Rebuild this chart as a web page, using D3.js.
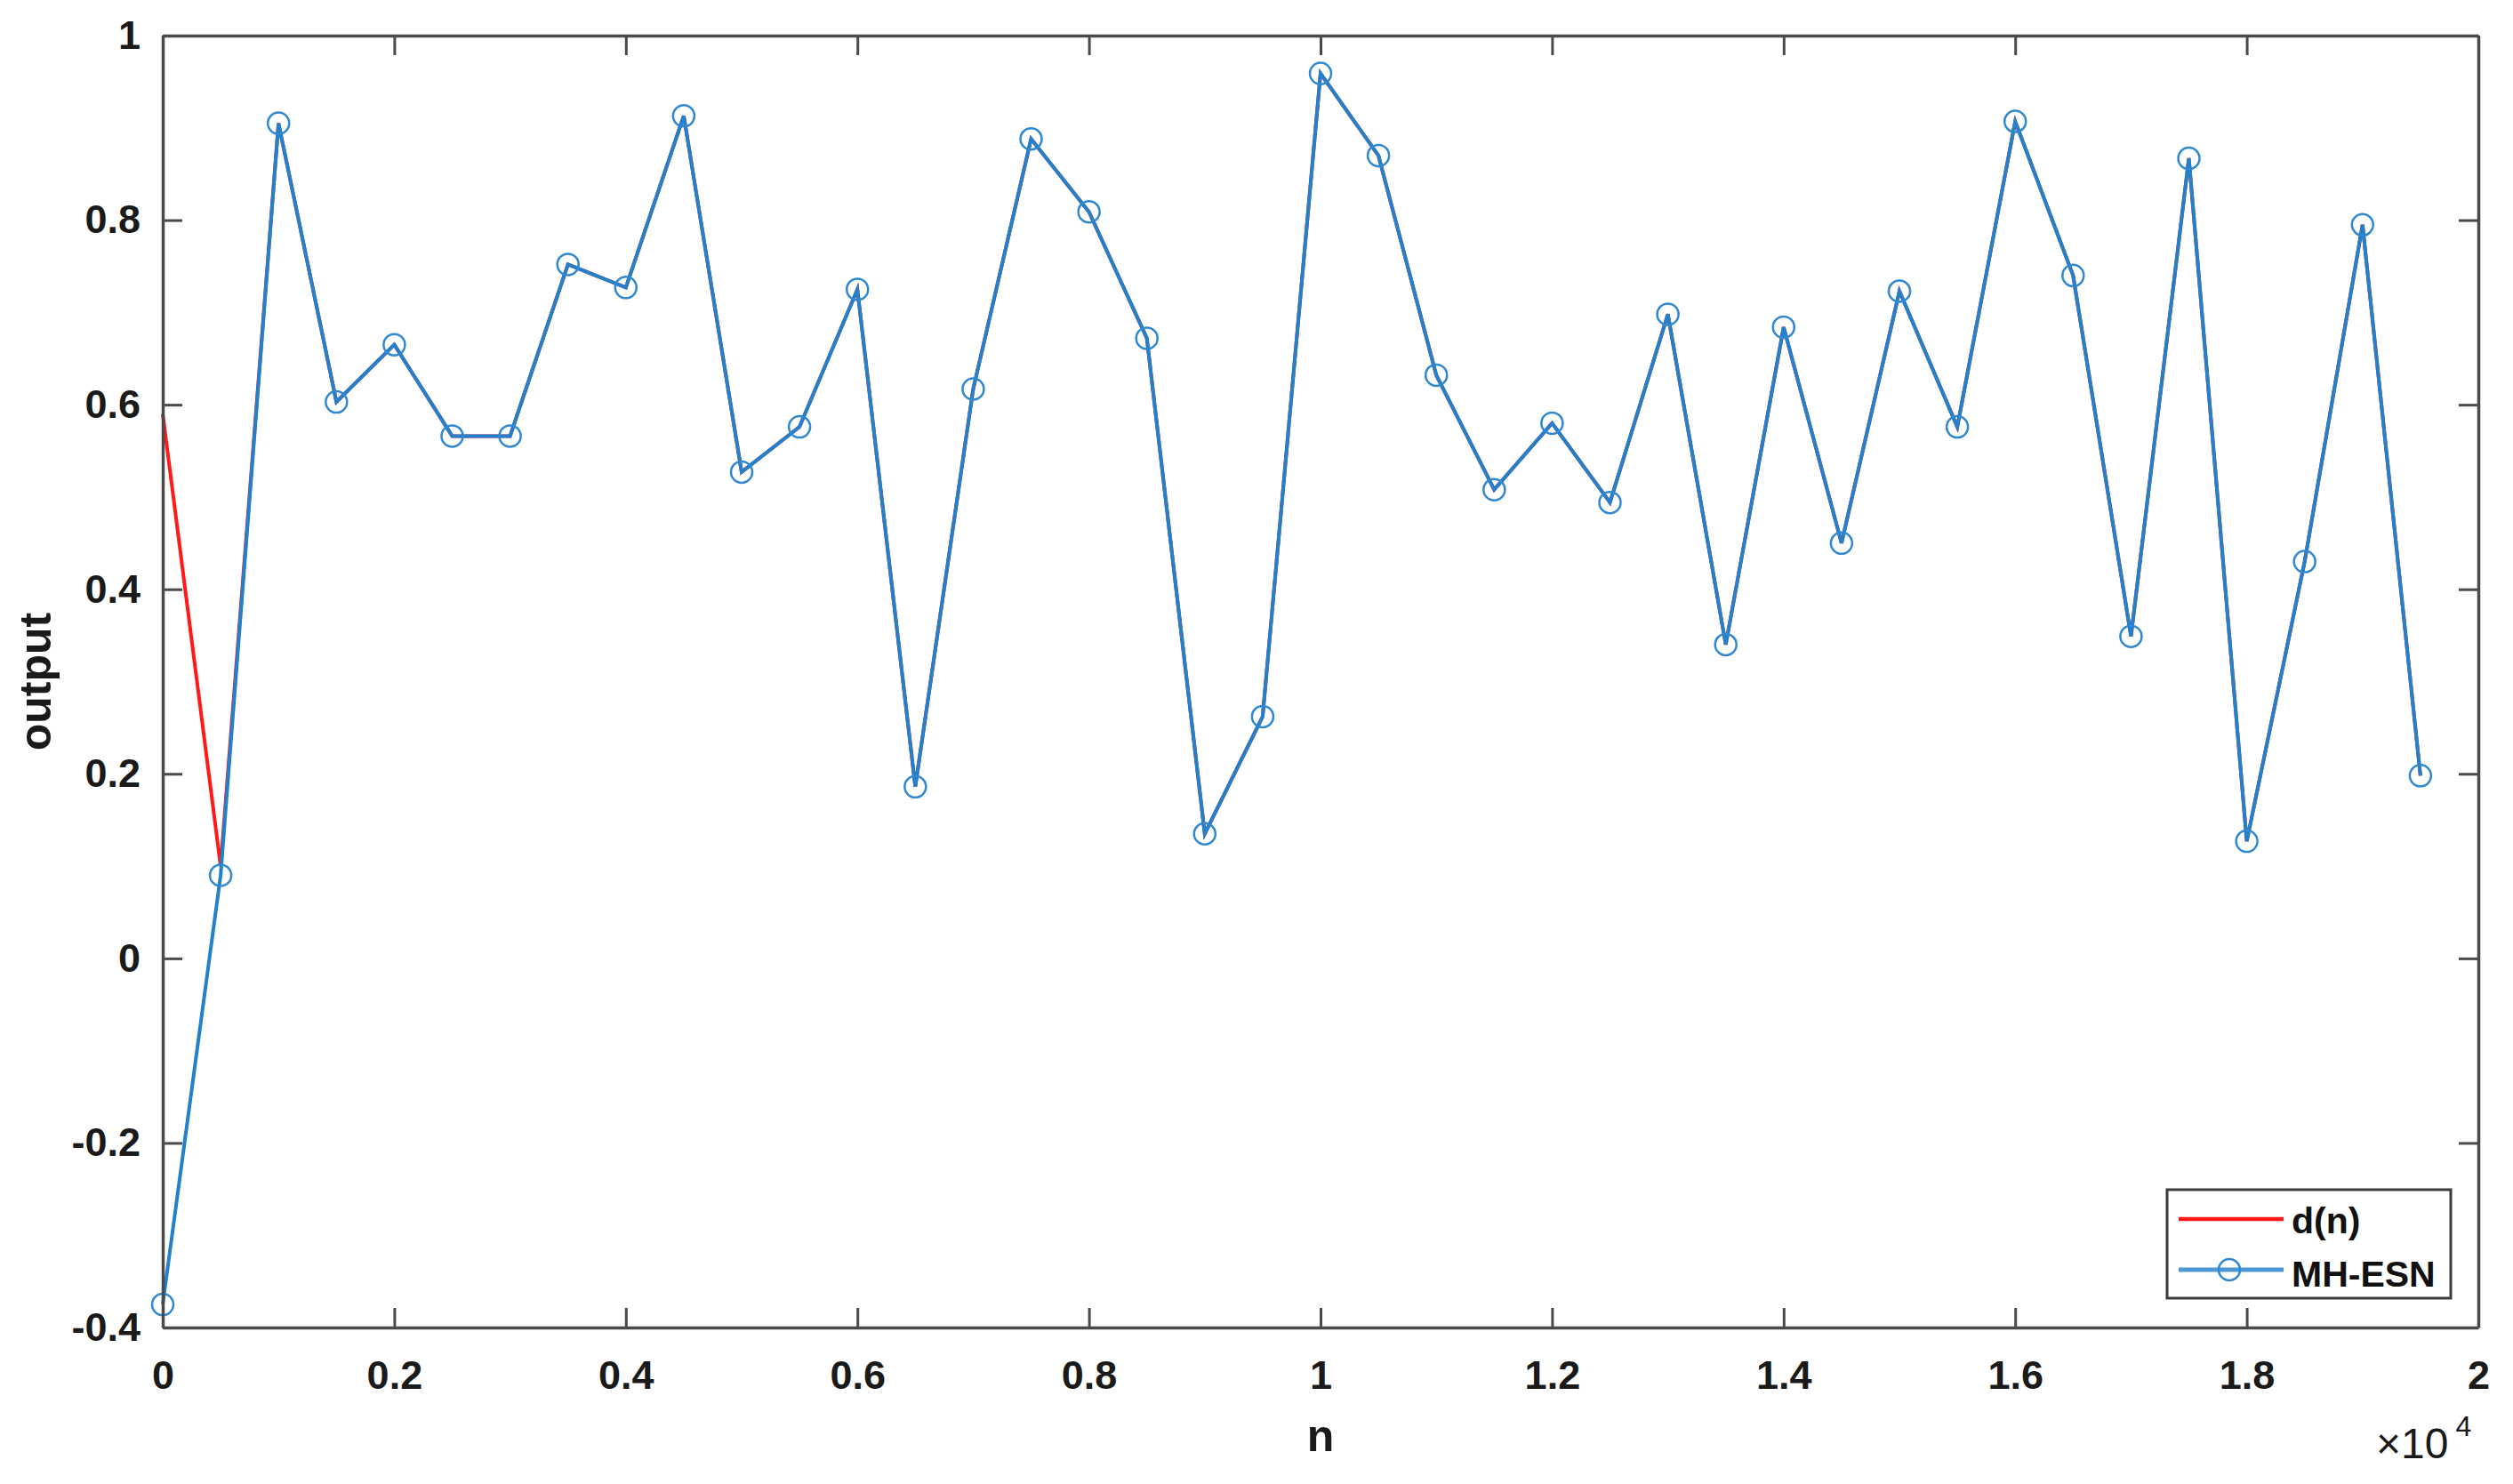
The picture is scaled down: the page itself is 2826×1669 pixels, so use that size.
<!DOCTYPE html>
<html>
<head>
<meta charset="utf-8">
<script src="https://cdn.jsdelivr.net/npm/d3@7"></script>
<style>
  html, body { margin: 0; padding: 0; background: #ffffff; }
  svg { display: block; }
  text { font-family: "Liberation Sans", Arial, Helvetica, sans-serif; }
</style>
</head>
<body>
<svg id="chart" width="2826" height="1669"></svg>
<script>
// ---- data ----
const nValues = [0, 500, 1000, 1500, 2000, 2500, 3000, 3500, 4000, 4500,
  5000, 5500, 6000, 6500, 7000, 7500, 8000, 8500, 9000, 9500,
  10000, 10500, 11000, 11500, 12000, 12500, 13000, 13500, 14000, 14500,
  15000, 15500, 16000, 16500, 17000, 17500, 18000, 18500, 19000, 19500];
const mhEsn = [-0.375, 0.09, 0.905, 0.603, 0.665, 0.566, 0.566, 0.752, 0.727, 0.913,
  0.527, 0.576, 0.725, 0.186, 0.617, 0.888, 0.809, 0.672, 0.135, 0.262,
  0.959, 0.870, 0.632, 0.508, 0.580, 0.494, 0.698, 0.340, 0.684, 0.450,
  0.723, 0.576, 0.907, 0.740, 0.349, 0.867, 0.127, 0.430, 0.795, 0.198];
const dN = [0.59, 0.10, 0.905, 0.603, 0.665, 0.566, 0.566, 0.752, 0.727, 0.913,
  0.527, 0.576, 0.725, 0.186, 0.617, 0.888, 0.809, 0.672, 0.135, 0.262,
  0.959, 0.870, 0.632, 0.508, 0.580, 0.494, 0.698, 0.340, 0.684, 0.450,
  0.723, 0.576, 0.907, 0.740, 0.349, 0.867, 0.127, 0.430, 0.795, 0.198];
const xTicks = [0, 2000, 4000, 6000, 8000, 10000, 12000, 14000, 16000, 18000, 20000];
const xTickLabels = ["0", "0.2", "0.4", "0.6", "0.8", "1", "1.2", "1.4", "1.6", "1.8", "2"];
const yTicks = [-0.4, -0.2, 0, 0.2, 0.4, 0.6, 0.8, 1];
const yTickLabels = ["-0.4", "-0.2", "0", "0.2", "0.4", "0.6", "0.8", "1"];
const seriesNames = ["d(n)", "MH-ESN"];

// ---- layout ----
const L = 183, R = 2787, T = 40, B = 1493;
const svg = d3.select("#chart");
const x = d3.scaleLinear().domain([0, 20000]).range([L, R]);
const y = d3.scaleLinear().domain([-0.4, 1]).range([B, T]);
const axisColor = "#4a4a4a";
const blue = "#2281cc";
const red = "#FF1A1A";

// lines
const line = d3.line().x((d, i) => x(nValues[i])).y(d => y(d));
svg.append("path").datum(dN)
  .attr("d", line).attr("fill", "none").attr("stroke", red).attr("stroke-width", 4);
svg.append("path").datum(mhEsn)
  .attr("d", line).attr("fill", "none").attr("stroke", blue).attr("stroke-width", 4);
svg.append("g").selectAll("circle").data(mhEsn).join("circle")
  .attr("cx", (d, i) => x(nValues[i])).attr("cy", d => y(d))
  .attr("r", 12).attr("fill", "none").attr("stroke", "#2f88d0").attr("stroke-width", 2.5);

// axes
function styleAxis(g) {
  g.select(".domain").attr("stroke", axisColor).attr("stroke-width", 3.5);
  g.selectAll(".tick line").attr("stroke", axisColor).attr("stroke-width", 3);
  g.selectAll(".tick text").attr("fill", "#1a1a1a")
    .style("font-family", "'Liberation Sans', Arial, sans-serif")
    .style("font-weight", "bold").style("font-size", "45px");
}
const fmtX = v => xTickLabels[xTicks.indexOf(v)];
const fmtY = v => yTickLabels[yTicks.findIndex(t => Math.abs(t - v) < 1e-9)];

svg.append("g").attr("transform", `translate(0,${B})`)
  .call(d3.axisBottom(x).tickValues(xTicks).tickFormat(fmtX).tickSizeInner(-22).tickSizeOuter(0).tickPadding(37))
  .call(styleAxis);
svg.append("g").attr("transform", `translate(0,${T})`)
  .call(d3.axisTop(x).tickValues(xTicks).tickFormat("").tickSizeInner(-22).tickSizeOuter(0))
  .call(styleAxis);
svg.append("g").attr("transform", `translate(${L},0)`)
  .call(d3.axisLeft(y).tickValues(yTicks).tickFormat(fmtY).tickSizeInner(-22).tickSizeOuter(0).tickPadding(25))
  .call(styleAxis);
svg.append("g").attr("transform", `translate(${R},0)`)
  .call(d3.axisRight(y).tickValues(yTicks).tickFormat("").tickSizeInner(-22).tickSizeOuter(0))
  .call(styleAxis);

// axis labels
svg.append("text").attr("transform", `translate(57,${(T + B) / 2}) rotate(-90)`)
  .attr("text-anchor", "middle").attr("font-weight", "bold").attr("font-size", 50)
  .attr("fill", "#1a1a1a").text("output");
svg.append("text").attr("x", x(10000)).attr("y", 1632)
  .attr("text-anchor", "middle").attr("font-weight", "bold").attr("font-size", 50)
  .attr("fill", "#1a1a1a").text("n");
const exp = svg.append("text").attr("x", 2672).attr("y", 1640)
  .attr("font-size", 48).attr("fill", "#1a1a1a");
exp.append("tspan").text("\u00D710");
exp.append("tspan").attr("dx", 8).attr("dy", -25).attr("font-size", 32).text("4");

// legend
const lg = svg.append("g");
lg.append("rect").attr("x", 2437).attr("y", 1338).attr("width", 319).attr("height", 122)
  .attr("fill", "#fff").attr("stroke", "#3a3a3a").attr("stroke-width", 3);
lg.append("line").attr("x1", 2450).attr("x2", 2568).attr("y1", 1371).attr("y2", 1371)
  .attr("stroke", red).attr("stroke-width", 4.5);
lg.append("line").attr("x1", 2450).attr("x2", 2568).attr("y1", 1428).attr("y2", 1428)
  .attr("stroke", "#4a98d6").attr("stroke-width", 5);
lg.append("circle").attr("cx", 2507).attr("cy", 1428).attr("r", 12)
  .attr("fill", "none").attr("stroke", "#2f88d0").attr("stroke-width", 2.5);
lg.selectAll("text.lab").data(seriesNames).join("text").attr("class", "lab")
  .attr("x", 2577).attr("y", (d, i) => 1387 + i * 60)
  .attr("font-weight", "bold").attr("font-size", 41).attr("fill", "#111").text(d => d);
</script>
</body>
</html>
